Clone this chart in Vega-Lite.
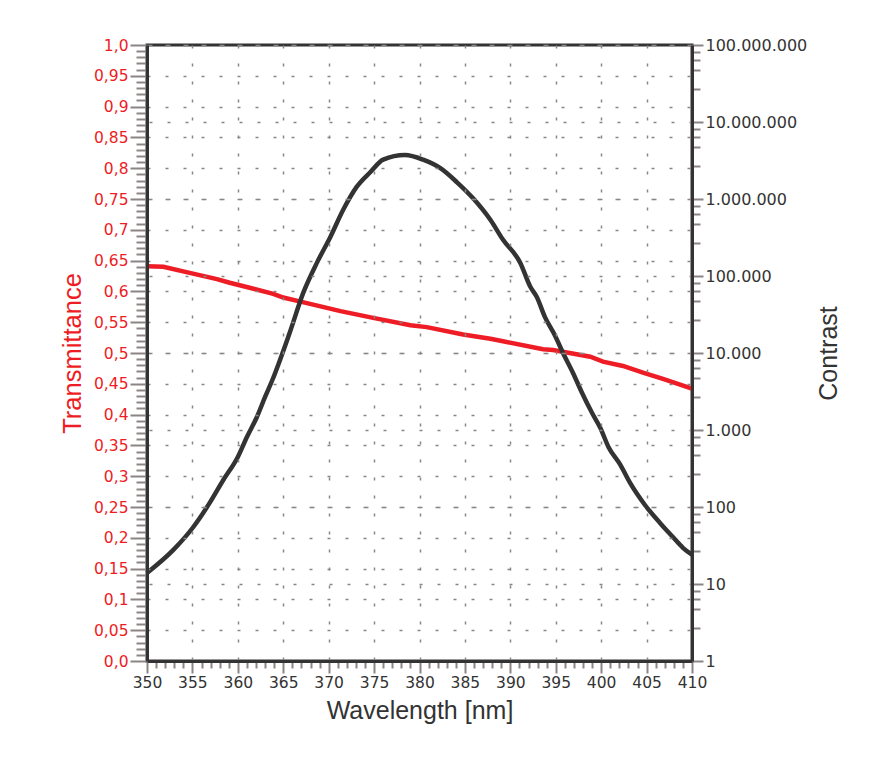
{
  "$schema": "https://vega.github.io/schema/vega-lite/v6.json",
  "width": 545,
  "height": 616,
  "autosize": {"type": "none"},
  "padding": {"left": 147, "top": 45, "right": 180, "bottom": 97},
  "background": "white",
  "config": {
    "font": "Liberation Sans",
    "view": {"stroke": "#333333", "strokeWidth": 3}
  },
  "encoding": {
    "x": {
      "field": "wl",
      "type": "quantitative",
      "scale": {"domain": [350, 410], "nice": false, "zero": false},
      "axis": {
        "values": [350,351,352,353,354,355,356,357,358,359,360,361,362,363,364,365,366,367,368,369,370,371,372,373,374,375,376,377,378,379,380,381,382,383,384,385,386,387,388,389,390,391,392,393,394,395,396,397,398,399,400,401,402,403,404,405,406,407,408,409,410],
        "labelExpr": "datum.value % 5 === 0 ? datum.label : ''",
        "tickSize": {"condition": {"test": "datum.value % 5 === 0", "value": 12}, "value": 7},
        "gridOpacity": {"condition": {"test": "datum.value % 5 === 0", "value": 1}, "value": 0},
        "grid": true,
        "gridColor": "#8c8585",
        "gridDash": [3, 15],
        "gridWidth": 1.5,
        "tickColor": "#8c8585",
        "tickWidth": 2,
        "domainColor": "#333333",
        "domainWidth": 3,
        "labelColor": "#333333",
        "labelFont": "DejaVu Sans",
        "labelFontSize": 15.5,
        "labelPadding": 2,
        "labelFlush": false,
        "labelOverlap": false,
        "title": "Wavelength [nm]",
        "titleFontSize": 25,
        "titleFontWeight": "normal",
        "titleColor": "#333333",
        "titlePadding": 8,
        "zindex": 1
      }
    }
  },
  "layer": [
    {
      "data": {"values": [
        {"wl": 350.0, "t": 0.641},
        {"wl": 351.8, "t": 0.640},
        {"wl": 354.7, "t": 0.630},
        {"wl": 357.7, "t": 0.620},
        {"wl": 359.1, "t": 0.614},
        {"wl": 361.3, "t": 0.606},
        {"wl": 363.9, "t": 0.596},
        {"wl": 365.0, "t": 0.590},
        {"wl": 367.6, "t": 0.581},
        {"wl": 371.3, "t": 0.568},
        {"wl": 374.9, "t": 0.557},
        {"wl": 379.0, "t": 0.545},
        {"wl": 380.8, "t": 0.542},
        {"wl": 384.8, "t": 0.530},
        {"wl": 387.8, "t": 0.523},
        {"wl": 389.2, "t": 0.519},
        {"wl": 393.6, "t": 0.506},
        {"wl": 394.7, "t": 0.505},
        {"wl": 398.8, "t": 0.494},
        {"wl": 400.2, "t": 0.486},
        {"wl": 402.4, "t": 0.479},
        {"wl": 404.6, "t": 0.468},
        {"wl": 406.8, "t": 0.458},
        {"wl": 410.0, "t": 0.442}
      ]},
      "mark": {"type": "line", "color": "#ee1c25", "strokeWidth": 4.5},
      "encoding": {
        "y": {
          "field": "t",
          "type": "quantitative",
          "scale": {"domain": [0, 1], "nice": false},
          "axis": {
            "values": [0,0.01,0.02,0.03,0.04,0.05,0.06,0.07,0.08,0.09,0.1,0.11,0.12,0.13,0.14,0.15,0.16,0.17,0.18,0.19,0.2,0.21,0.22,0.23,0.24,0.25,0.26,0.27,0.28,0.29,0.3,0.31,0.32,0.33,0.34,0.35,0.36,0.37,0.38,0.39,0.4,0.41,0.42,0.43,0.44,0.45,0.46,0.47,0.48,0.49,0.5,0.51,0.52,0.53,0.54,0.55,0.56,0.57,0.58,0.59,0.6,0.61,0.62,0.63,0.64,0.65,0.66,0.67,0.68,0.69,0.7,0.71,0.72,0.73,0.74,0.75,0.76,0.77,0.78,0.79,0.8,0.81,0.82,0.83,0.84,0.85,0.86,0.87,0.88,0.89,0.9,0.91,0.92,0.93,0.94,0.95,0.96,0.97,0.98,0.99,1],
            "labelExpr": "round(datum.value*100) % 5 === 0 ? (datum.value === 0 ? '0,0' : (datum.value === 1 ? '1,0' : replace(format(datum.value, '.2~f'), '.', ','))) : ''",
            "tickSize": {"condition": {"test": "round(datum.value*100) % 5 === 0", "value": 17}, "value": 11},
            "gridOpacity": {"condition": {"test": "round(datum.value*100) % 5 === 0", "value": 1}, "value": 0},
            "grid": true,
            "gridColor": "#8c8585",
            "gridDash": [3, 15],
            "gridWidth": 1.5,
            "tickColor": "#8c8585",
            "tickWidth": 2,
            "domainColor": "#333333",
            "domainWidth": 3,
            "labelColor": "#ee1c25",
            "labelFont": "DejaVu Sans",
            "labelFontSize": 15.5,
            "labelPadding": 2,
            "labelFlush": false,
            "labelOverlap": false,
            "title": "Transmittance",
            "titleColor": "#ee1c25",
            "titleFontSize": 25.5,
            "titleFontWeight": "normal",
            "titlePadding": 8,
            "zindex": 1
          }
        }
      }
    },
    {
      "data": {"values": [
        {"wl": 350.0, "c": 13.9},
        {"wl": 352.9, "c": 27.7},
        {"wl": 355.1, "c": 55.0},
        {"wl": 356.9, "c": 113},
        {"wl": 358.4, "c": 224},
        {"wl": 360.0, "c": 446},
        {"wl": 361.0, "c": 811},
        {"wl": 362.1, "c": 1476},
        {"wl": 363.0, "c": 2685},
        {"wl": 363.8, "c": 4457},
        {"wl": 365.7, "c": 18200},
        {"wl": 367.2, "c": 60300},
        {"wl": 368.7, "c": 148000},
        {"wl": 370.2, "c": 324000},
        {"wl": 371.6, "c": 724000},
        {"wl": 373.1, "c": 1445000},
        {"wl": 374.6, "c": 2240000},
        {"wl": 376.0, "c": 3240000},
        {"wl": 378.4, "c": 3720000},
        {"wl": 380.4, "c": 3240000},
        {"wl": 382.3, "c": 2510000},
        {"wl": 384.1, "c": 1660000},
        {"wl": 385.9, "c": 1020000},
        {"wl": 387.8, "c": 537000},
        {"wl": 389.2, "c": 295000},
        {"wl": 391.1, "c": 148000},
        {"wl": 392.2, "c": 72400},
        {"wl": 392.9, "c": 53700},
        {"wl": 393.8, "c": 29500},
        {"wl": 394.9, "c": 17000},
        {"wl": 395.8, "c": 10000},
        {"wl": 396.9, "c": 5500},
        {"wl": 397.9, "c": 3020},
        {"wl": 399.0, "c": 1660},
        {"wl": 399.9, "c": 1070},
        {"wl": 400.8, "c": 603},
        {"wl": 402.1, "c": 355},
        {"wl": 403.2, "c": 204},
        {"wl": 404.8, "c": 107},
        {"wl": 406.5, "c": 61.7},
        {"wl": 407.9, "c": 40.7},
        {"wl": 409.0, "c": 29.5},
        {"wl": 410.0, "c": 24.0}
      ]},
      "mark": {"type": "line", "color": "#333333", "strokeWidth": 4.5, "interpolate": "monotone"},
      "encoding": {
        "y": {
          "field": "c",
          "type": "quantitative",
          "scale": {"type": "log", "domain": [1, 100000000], "nice": false},
          "axis": {
            "orient": "right",
            "values": [1,2.7,4.7,6.3,8,10,27,47,63,80,100,270,470,630,800,1000,2700,4700,6300,8000,10000,27000,47000,63000,80000,100000,270000,470000,630000,800000,1000000,2700000,4700000,6300000,8000000,10000000,27000000,47000000,63000000,80000000,100000000],
            "labelExpr": "abs(log(datum.value)/LN10 - round(log(datum.value)/LN10)) < 0.001 ? replace(format(datum.value, ','), /,/g, '.') : ''",
            "tickSize": {"condition": {"test": "abs(log(datum.value)/LN10 - round(log(datum.value)/LN10)) < 0.001", "value": 11}, "value": 8},
            "gridOpacity": {"condition": {"test": "abs(log(datum.value)/LN10 - round(log(datum.value)/LN10)) < 0.001", "value": 1}, "value": 0},
            "grid": true,
            "gridColor": "#8c8585",
            "gridDash": [3, 15],
            "gridWidth": 1.5,
            "tickColor": "#8c8585",
            "tickWidth": 2,
            "domainColor": "#333333",
            "domainWidth": 3,
            "labelColor": "#333333",
            "labelFont": "DejaVu Sans",
            "labelFontSize": 16,
            "labelPadding": 2,
            "labelFlush": false,
            "labelOverlap": false,
            "title": "Contrast",
            "titleColor": "#333333",
            "titleFontSize": 25,
            "titleFontWeight": "normal",
            "titleAngle": 270,
            "titlePadding": 35,
            "zindex": 1
          }
        }
      }
    }
  ],
  "resolve": {"scale": {"y": "independent"}}
}
